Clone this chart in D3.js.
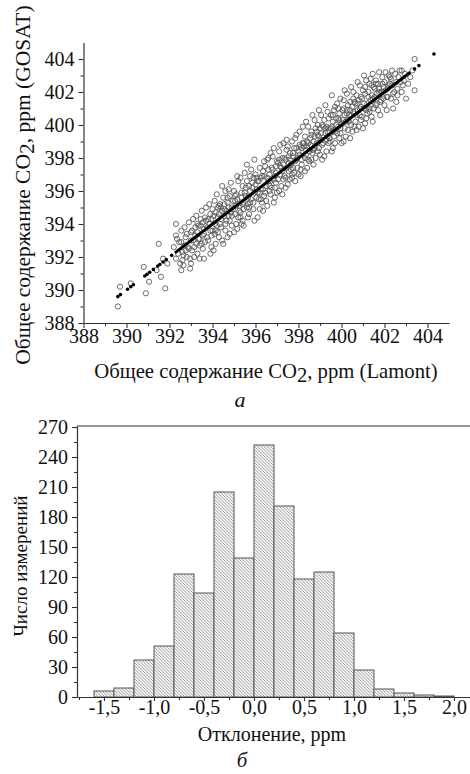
<!DOCTYPE html>
<html><head><meta charset="utf-8">
<script src="https://cdn.jsdelivr.net/npm/d3@7"></script>
<style>
body{margin:0;background:#fff}
svg{display:block}
text{font-family:"Liberation Serif","Times New Roman",serif;fill:#111}
</style>
</head><body>
<svg id="c" width="470" height="774" font-family="Liberation Serif, serif"></svg>
<script>
// ---------- DATA ----------
const scatterTicks = [388,390,392,394,396,398,400,402,404];
const scatterMinor = [389,391,393,395,397,399,401,403];
// open circles: [Lamont, GOSAT]
const scatterPoints = [
[389.6,389.0],[389.7,390.2],[390.2,390.4],[390.9,389.8],[390.8,391.4],[391.05,390.5],[391.5,392.8],[391.6,390.8],[391.8,390.1],[391.7,391.9],[391.9,391.6],[391.4,391.2],[392.3,394.0],[392.3,393.3],[392.6,391.8],[392.96,391.3],
[392.2,392.6],[392.35,393.1],[392.4,392.2],[392.5,391.6],[392.45,392.9],[392.3,391.9],[392.55,393.6],
[392.6,392.3],[392.7,393.8],[392.75,393.2],[392.65,391.5],[392.8,392.0],[392.7,392.7],[392.55,391.2],
[392.9,394.1],[393.0,393.5],[393.05,392.4],[392.95,391.9],[393.1,393.0],[392.85,392.6],[393.0,391.6],[393.1,394.3],
[393.2,393.8],[393.3,392.2],[393.25,394.5],[393.35,393.1],[393.4,392.7],[393.15,392.0],[393.3,394.0],[393.4,391.9],[393.2,393.3],
[393.5,394.8],[393.6,393.4],[393.55,392.5],[393.7,394.2],[393.45,393.9],[393.65,392.9],[393.6,391.9],[393.5,392.8],[393.7,395.0],[393.55,394.1],
[393.8,393.0],[393.9,394.6],[393.95,392.6],[393.85,395.2],[394.0,393.6],[393.75,393.8],[393.9,392.2],[394.0,394.9],[393.8,394.3],[393.95,393.3],
[394.1,395.4],[394.2,393.9],[394.15,392.8],[394.25,394.4],[394.3,393.2],[394.05,392.4],[394.2,395.8],[394.1,394.0],[394.3,395.1],[394.25,393.5],[394.15,394.7],
[394.4,394.3],[394.5,395.6],[394.45,393.0],[394.55,394.9],[394.6,393.6],[394.35,395.2],[394.5,392.8],[394.6,396.0],[394.4,393.8],[394.55,394.5],[394.45,396.3],
[394.7,395.3],[394.8,393.4],[394.75,396.1],[394.85,394.7],[394.9,393.9],[394.65,394.2],[394.8,395.7],[394.9,395.0],[394.7,393.2],[394.85,396.5],[394.75,394.5],
[395.0,396.0],[395.1,394.0],[395.05,395.4],[395.15,393.7],[395.2,396.6],[394.95,394.9],[395.1,395.1],[395.2,394.4],[395.0,393.5],[395.15,396.9],[395.05,395.7],
[395.3,394.7],[395.4,396.3],[395.35,395.6],[395.45,393.9],[395.5,397.1],[395.25,395.1],[395.4,394.2],[395.5,395.9],[395.3,396.8],[395.45,395.3],[395.35,394.0],
[395.6,396.6],[395.7,395.0],[395.65,394.4],[395.75,396.0],[395.8,397.3],[395.55,395.7],[395.7,394.6],[395.8,395.5],[395.6,397.6],[395.75,396.9],[395.65,395.2],
[395.9,394.9],[396.0,396.4],[395.95,397.9],[396.05,395.6],[396.1,394.4],[395.85,396.2],[396.0,397.0],[396.1,395.9],[395.9,395.3],[396.05,396.8],[395.95,394.2],
[396.2,397.4],[396.3,395.3],[396.25,396.1],[396.35,394.8],[396.4,397.8],[396.15,396.6],[396.3,396.9],[396.4,395.7],[396.2,394.9],[396.35,397.2],[396.25,395.5],
[396.5,396.3],[396.6,398.0],[396.55,395.1],[396.65,397.0],[396.7,395.8],[396.45,397.5],[396.6,396.6],[396.7,398.3],[396.5,395.4],[396.65,396.0],[396.55,397.9],
[396.8,397.3],[396.9,395.6],[396.85,398.6],[396.95,396.5],[397.0,397.8],[396.75,396.2],[396.9,396.9],[397.0,395.9],[396.8,398.1],[396.95,397.5],[396.85,395.3],
[397.1,398.4],[397.2,396.3],[397.15,397.0],[397.25,395.8],[397.3,398.9],[397.05,397.7],[397.2,397.4],[397.3,396.7],[397.1,396.0],[397.25,398.0],[397.15,398.8],
[397.4,397.9],[397.5,396.4],[397.45,399.1],[397.55,397.2],[397.6,398.3],[397.35,396.9],[397.5,398.7],[397.6,396.7],[397.4,396.2],[397.55,397.7],[397.45,398.5],
[397.7,399.0],[397.8,397.1],[397.75,398.1],[397.85,396.6],[397.9,399.4],[397.65,397.6],[397.8,398.6],[397.9,397.9],[397.7,396.8],[397.85,399.2],[397.75,397.4],
[398.0,398.4],[398.1,396.9],[398.05,399.6],[398.15,397.6],[398.2,398.9],[397.95,398.0],[398.1,397.3],[398.2,399.9],[398.0,397.0],[398.15,398.6],[398.05,398.8],
[398.3,399.3],[398.4,397.4],[398.35,398.2],[398.45,399.9],[398.5,397.8],[398.25,398.7],[398.4,399.0],[398.5,398.4],[398.3,397.2],[398.45,398.9],[398.35,400.2],
[398.6,399.6],[398.7,397.6],[398.65,398.5],[398.75,400.3],[398.8,398.0],[398.55,399.2],[398.7,399.0],[398.8,399.8],[398.6,397.9],[398.75,398.6],[398.65,400.6],
[398.9,400.0],[399.0,398.2],[398.95,399.3],[399.05,400.6],[399.1,397.9],[398.85,399.6],[399.0,399.8],[399.1,398.8],[398.9,398.4],[399.05,399.1],[398.95,400.9],
[399.2,400.3],[399.3,398.4],[399.25,399.5],[399.35,400.8],[399.4,398.9],[399.15,399.9],[399.3,399.9],[399.4,400.4],[399.2,398.1],[399.35,399.3],[399.25,401.2],
[399.5,400.6],[399.6,398.6],[399.55,401.8],[399.65,399.7],[399.7,401.1],[399.45,399.2],[399.6,400.2],[399.7,398.9],[399.5,399.8],[399.65,400.9],[399.55,398.4],
[399.8,401.3],[399.9,399.2],[399.85,400.4],[399.95,401.6],[400.0,398.9],[399.75,400.0],[399.9,400.7],[400.0,400.1],[399.8,399.5],[399.95,399.8],[399.85,401.0],
[400.1,401.5],[400.2,399.3],[400.15,400.6],[400.25,401.9],[400.3,399.7],[400.05,400.9],[400.2,400.2],[400.3,401.2],[400.1,399.0],[400.25,400.7],[400.15,402.1],
[400.4,401.4],[400.5,399.6],[400.45,400.6],[400.55,402.0],[400.6,399.9],[400.35,400.2],[400.5,401.1],[400.6,400.7],[400.4,399.2],[400.55,401.6],[400.45,402.3],
[400.7,401.8],[400.8,399.9],[400.75,400.9],[400.85,402.4],[400.9,400.3],[400.65,401.3],[400.8,401.5],[400.9,401.1],[400.7,399.7],[400.85,400.6],[400.75,402.6],
[401.0,402.1],[401.1,400.1],[401.05,401.0],[401.15,402.7],[401.2,400.7],[400.95,401.6],[401.1,401.9],[401.2,401.3],[401.0,399.8],[401.15,400.4],[401.05,403.0],
[401.3,402.5],[401.4,400.5],[401.35,401.5],[401.45,403.1],[401.5,401.0],[401.25,402.0],[401.4,401.8],[401.5,402.3],[401.3,400.8],[401.45,400.2],[401.35,402.8],
[401.6,402.7],[401.7,400.9],[401.65,401.9],[401.75,403.2],[401.8,401.4],[401.55,402.2],[401.7,402.5],[401.8,400.6],[401.6,401.2],[401.75,402.0],
[401.9,402.9],[402.0,401.2],[401.95,402.3],[402.05,403.2],[402.1,401.7],[401.85,401.5],[402.0,402.6],[402.1,400.9],[401.9,402.0],
[402.2,403.0],[402.3,401.6],[402.25,402.5],[402.35,403.3],[402.4,401.9],[402.15,402.2],[402.3,402.8],[402.4,401.0],
[402.5,403.1],[402.6,402.2],[402.55,401.4],[402.7,403.3],[402.75,402.6],[402.6,401.8],[402.8,402.0],
[402.9,402.7],[403.0,401.6],[403.1,402.5],[402.8,403.3],[403.2,402.9],[403.4,404.0],[403.4,402.1],[403.3,403.3],
[392.55,392.9],[392.65,392.1],[392.8,393.4],[392.9,392.5],[393.0,393.0],[392.75,392.4],
[393.05,393.6],[393.15,392.6],[393.3,393.5],[393.4,393.1],[393.45,394.3],[393.25,392.8],[393.35,393.9],
[393.55,393.3],[393.65,394.4],[393.75,393.2],[393.85,394.0],[393.95,394.3],[393.6,393.7],[393.9,393.6],
[394.05,394.5],[394.15,393.6],[394.25,395.0],[394.35,394.0],[394.45,394.8],[394.1,393.4],[394.4,395.0],[394.3,394.6],
[394.55,395.2],[394.65,394.8],[394.75,395.0],[394.8,394.2],[394.95,395.4],[394.6,394.0],[394.9,394.5],[394.7,395.6],
[395.05,394.6],[395.15,395.5],[395.25,394.8],[395.35,395.9],[395.45,394.9],[395.1,395.8],[395.4,395.2],[395.3,394.4],
[395.55,396.2],[395.65,395.6],[395.75,395.3],[395.85,396.5],[395.95,395.9],[395.6,395.0],[395.9,396.8],[395.7,396.3],
[396.05,396.1],[396.15,395.5],[396.25,396.8],[396.35,396.1],[396.45,395.9],[396.1,396.6],[396.4,396.9],[396.2,395.9],
[396.55,396.8],[396.65,396.3],[396.75,397.4],[396.85,396.7],[396.95,397.1],[396.6,397.3],[396.9,396.2],[396.7,396.6],
[397.05,396.7],[397.15,397.5],[397.25,397.2],[397.35,398.0],[397.45,397.4],[397.1,397.9],[397.4,396.8],[397.3,397.6],
[397.55,398.1],[397.65,397.3],[397.75,398.3],[397.85,397.8],[397.95,397.4],[397.6,397.9],[397.9,398.6],[397.7,397.0],
[398.05,398.2],[398.15,397.9],[398.25,398.9],[398.35,398.5],[398.45,397.9],[398.1,398.7],[398.4,398.7],[398.3,398.0],
[398.55,398.8],[398.65,398.3],[398.75,399.3],[398.85,398.9],[398.95,398.6],[398.6,399.4],[398.9,399.4],[398.7,398.5],
[399.05,399.5],[399.15,398.9],[399.25,399.8],[399.35,399.6],[399.45,399.0],[399.1,400.0],[399.4,399.8],[399.3,399.1],
[399.55,399.9],[399.65,399.3],[399.75,400.4],[399.85,399.9],[399.95,399.5],[399.6,400.6],[399.9,400.3],[399.7,399.6],
[400.05,400.3],[400.15,399.8],[400.25,400.9],[400.35,400.6],[400.45,400.0],[400.1,401.0],[400.4,400.9],[400.3,400.3],
[400.55,400.8],[400.65,400.2],[400.75,401.3],[400.85,401.0],[400.95,400.5],[400.6,401.4],[400.9,401.7],[400.7,400.6],
[401.05,401.3],[401.15,400.9],[401.25,401.7],[401.35,401.2],[401.45,401.6],[401.1,402.3],[401.4,402.4],[401.3,401.0],
[401.55,401.7],[401.65,401.3],[401.75,402.2],[401.85,402.0],[401.95,401.6],[401.6,402.5],[401.9,402.5],
[402.05,402.1],[402.15,401.7],[402.25,402.9],[402.35,402.4],[402.45,402.0],[402.2,402.4],
[402.55,402.6],[402.65,402.9],[402.85,402.4],[402.95,403.1]
];
// black points along the 1:1 line (x = y)
const fitDots = [389.6,389.72,390.05,390.2,390.32,390.85,390.95,391.08,391.25,391.45,391.55,391.7,391.85,392.1,403.4,403.6,404.3];
const fitSegment = [392.25,403.2];

const histBinStart = [-1.6,-1.4,-1.2,-1.0,-0.8,-0.6,-0.4,-0.2,0.0,0.2,0.4,0.6,0.8,1.0,1.2,1.4,1.6,1.8];
const histCounts   = [6,9,37,51,123,104,205,139,252,191,118,125,64,27,8,4,2,1];
const histBinWidth = 0.2;
const histXTicks = [-1.5,-1.0,-0.5,0.0,0.5,1.0,1.5,2.0];
const histXTickLabels = ["-1,5","-1,0","-0,5","0,0","0,5","1,0","1,5","2,0"];
const histXMinor = [-1.75,-1.25,-0.75,-0.25,0.25,0.75,1.25,1.75];
const histYTicks = [0,30,60,90,120,150,180,210,240,270];
const histYMinor = [15,45,75,105,135,165,195,225,255];

// ---------- DRAW ----------
const svg = d3.select("#c");
const axisColor = "#333";
const FONT = '"Liberation Serif","Times New Roman",serif';

function styleAxis(g){
  g.attr("font-family", FONT).attr("font-size", 20);
  g.select(".domain").attr("stroke", axisColor).attr("stroke-width",1.2);
  g.selectAll(".tick line").attr("stroke", axisColor).attr("stroke-width",1.1);
  g.selectAll(".tick text").style("font-size","20px").attr("fill","#111")
   .style("font-family", FONT);
}

// Scatter
const sx = d3.scaleLinear().domain([388,405]).range([83.5,449]);
const sy = d3.scaleLinear().domain([388,405]).range([323,42.5]);

const gS = svg.append("g");
gS.append("g").attr("transform","translate(0,323)")
  .call(d3.axisBottom(sx).tickValues(scatterMinor).tickSize(3).tickFormat("").tickSizeOuter(0))
  .call(g=>g.select(".domain").remove()).call(styleAxis);
gS.append("g").attr("transform","translate(0,323)")
  .call(d3.axisBottom(sx).tickValues(scatterTicks).tickSize(5).tickPadding(3).tickSizeOuter(0))
  .call(styleAxis).call(g=>g.selectAll(".tick text").attr("dy","0.6em"));
gS.append("g").attr("transform","translate(83.5,0)")
  .call(d3.axisLeft(sy).tickValues(scatterMinor).tickSize(3).tickFormat("").tickSizeOuter(0))
  .call(g=>g.select(".domain").remove()).call(styleAxis);
gS.append("g").attr("transform","translate(83.5,0)")
  .call(d3.axisLeft(sy).tickValues(scatterTicks).tickSize(5).tickPadding(4).tickSizeOuter(0))
  .call(styleAxis);

gS.append("g").selectAll("circle").data(scatterPoints).join("circle")
  .attr("cx",d=>sx(d[0])).attr("cy",d=>sy(d[1])).attr("r",2.6)
  .attr("fill","none").attr("stroke","#5a5a5a").attr("stroke-width",0.9);

gS.append("path")
  .datum(fitSegment.map(v=>[v,v]))
  .attr("d", d3.line().x(d=>sx(d[0])).y(d=>sy(d[1])))
  .attr("stroke","#000").attr("stroke-width",3).attr("fill","none");
gS.append("g").selectAll("circle").data(fitDots).join("circle")
  .attr("cx",d=>sx(d)).attr("cy",d=>sy(d)).attr("r",1.8).attr("fill","#000");

// scatter titles
const xt = gS.append("text").attr("x",266).attr("y",378).attr("text-anchor","middle").style("font-size","20.7px");
xt.append("tspan").text("Общее содержание CO");
xt.append("tspan").attr("dy",4).text("2");
xt.append("tspan").attr("dy",-4).text(", ppm (Lamont)");

const yt = gS.append("text").attr("transform","translate(30,185) rotate(-90)").attr("text-anchor","middle").style("font-size","21.5px");
yt.append("tspan").text("Общее содержание CO");
yt.append("tspan").attr("dy",4).text("2");
yt.append("tspan").attr("dy",-4).text(", ppm (GOSAT)");

gS.append("text").attr("x",240).attr("y",407).attr("text-anchor","middle")
  .style("font-size","22px").style("font-style","italic").text("а");

// Histogram
const hx = d3.scaleLinear().domain([-1.77,2.16]).range([77,470]);
const hy = d3.scaleLinear().domain([0,271]).range([697,426]);
const gH = svg.append("g");

const defs = svg.append("defs");
const pat = defs.append("pattern").attr("id","hatch").attr("patternUnits","userSpaceOnUse")
  .attr("width",3.2).attr("height",3.2);
pat.append("rect").attr("width",3.2).attr("height",3.2).attr("fill","#f6f6f6");
pat.append("path").attr("d","M-0.8,-0.8L4,4M-0.8,2.4L0.8,4M2.4,-0.8L4,0.8")
  .attr("stroke","#8a8a8a").attr("stroke-width",0.8);

gH.append("g").selectAll("rect").data(histBinStart).join("rect")
  .attr("x",(d)=>hx(d)).attr("width",(d)=>hx(d+histBinWidth)-hx(d))
  .attr("y",(d,i)=>hy(histCounts[i])).attr("height",(d,i)=>hy(0)-hy(histCounts[i]))
  .attr("fill","url(#hatch)").attr("stroke","#555").attr("stroke-width",1);

// top frame
gH.append("line").attr("x1",hx(-1.77)).attr("x2",hx(2.16)).attr("y1",hy(271)).attr("y2",hy(271))
  .attr("stroke",axisColor).attr("stroke-width",1.2);

gH.append("g").attr("transform","translate(0,697)")
  .call(d3.axisBottom(hx).tickValues(histXMinor).tickSize(3).tickFormat("").tickSizeOuter(0))
  .call(g=>g.select(".domain").remove()).call(styleAxis);
gH.append("g").attr("transform","translate(0,697)")
  .call(d3.axisBottom(hx).tickValues(histXTicks).tickSize(4).tickPadding(1).tickSizeOuter(0)
    .tickFormat((d,i)=>histXTickLabels[i]))
  .call(styleAxis).call(g=>g.selectAll(".tick text").attr("dy","0.6em"));
gH.append("g").attr("transform","translate(77,0)")
  .call(d3.axisLeft(hy).tickValues(histYMinor).tickSize(3).tickFormat("").tickSizeOuter(0))
  .call(g=>g.select(".domain").remove()).call(styleAxis);
gH.append("g").attr("transform","translate(77,0)")
  .call(d3.axisLeft(hy).tickValues(histYTicks).tickSize(5).tickPadding(4).tickSizeOuter(0))
  .call(styleAxis);

gH.append("text").attr("x",272).attr("y",741).attr("text-anchor","middle").style("font-size","20px").text("Отклонение, ppm");
gH.append("text").attr("transform","translate(27,566) rotate(-90)").attr("text-anchor","middle").style("font-size","19px").text("Число измерений");
gH.append("text").attr("x",242).attr("y",767).attr("text-anchor","middle")
  .style("font-size","21px").style("font-style","italic").text("б");
</script>
</body></html>
